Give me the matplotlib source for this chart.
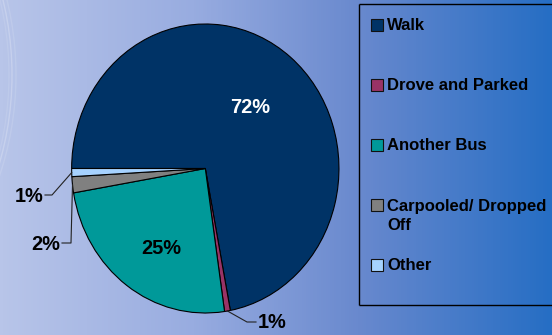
import matplotlib
matplotlib.use("Agg")
import matplotlib.pyplot as plt
import numpy as np
from matplotlib.patches import Rectangle, Arc
from matplotlib.lines import Line2D
from matplotlib.colors import LinearSegmentedColormap

# Mode of access to the bus stop (share of riders, %)
categories = ["Walk", "Drove and Parked", "Another Bus", "Carpooled/ Dropped\nOff", "Other"]
shares = [72.0, 0.7, 24.6, 1.8, 0.9]
colors = ["#003366", "#993366", "#009999", "#808080", "#A6D2FF"]

W, H = 552, 335
FONT = ["Liberation Sans", "DejaVu Sans"]

fig = plt.figure(figsize=(W / 100, H / 100), dpi=100)

# Background: horizontal gradient, light lavender on the left to blue on the right
bg = fig.add_axes([0, 0, 1, 1])
bg_cmap = LinearSegmentedColormap.from_list(
    "bg",
    [(0.0, (184 / 255, 197 / 255, 233 / 255)),
     (0.35, (152 / 255, 172 / 255, 224 / 255)),
     (0.65, (105 / 255, 137 / 255, 206 / 255)),
     (1.0, (38 / 255, 110 / 255, 196 / 255))],
)
grad = np.linspace(0, 1, 552)[None, :]
bg.imshow(grad, aspect="auto", cmap=bg_cmap, extent=[0, W, 0, H], origin="lower",
          interpolation="nearest")
bg.set_xlim(0, W)
bg.set_ylim(0, H)
bg.axis("off")

# faint decorative swoosh at the left edge
for dx, a in [(0, 0.22), (4, 0.12), (-3, 0.1)]:
    bg.add_patch(Arc((-305 + dx, H - 75), 2 * 317, 2 * 317, theta1=-20, theta2=20,
                     color="white", lw=1.0, alpha=a))

# Pie axes (slightly taller than wide)
cx, cy, rx, ry = 205.3, 168.5, 133.65, 144.5
ax = fig.add_axes([(cx - rx) / W, (H - cy - ry) / H, 2 * rx / W, 2 * ry / H])
wedges, _ = ax.pie(shares, colors=colors, startangle=180, counterclock=False,
                   wedgeprops=dict(edgecolor="black", linewidth=0.8))
ax.set_aspect("auto")
ax.set_xlim(-1, 1)
ax.set_ylim(-1, 1)
ax.axis("off")


def px(x, y):
    """pixel position -> pie data coordinates"""
    return (x - cx) / rx, (cy - y) / ry


label_kw = dict(fontsize=14.4, fontweight="bold", family=FONT)

# inside labels for the large slices: (radius, angle shift in degrees, colour)
inside = {0: (0.54, 1.0, "white"), 2: (0.645, 5.5, "black")}
for i, (r, dth, col) in inside.items():
    w = wedges[i]
    th = np.deg2rad((w.theta1 + w.theta2) / 2 + dth)
    ax.text(r * np.cos(th), r * np.sin(th), f"{shares[i]:.0f}%", color=col,
            ha="center", va="center", **label_kw)

# outside labels with leader lines: (elbow px, end px, text px, ha)
outside = {
    4: ((52, 195), (45, 195), (43, 197), "right"),
    3: ((71, 243), (62, 243), (60, 244), "right"),
    1: ((247, 322), (256, 322), (258, 323), "left"),
}
for i, (elbow, end, tpos, ha) in outside.items():
    w = wedges[i]
    th = np.deg2rad((w.theta1 + w.theta2) / 2)
    ex, ey = px(*elbow)
    nx, ny = px(*end)
    ax.plot([np.cos(th), ex, nx], [np.sin(th), ey, ny], color="#222222",
            lw=0.8, clip_on=False)
    tx, ty = px(*tpos)
    ax.text(tx, ty, f"{shares[i]:.0f}%", color="black", ha=ha, va="center",
            clip_on=False, **label_kw)

# Legend frame on the right, open towards the right edge (figure fractions)
x0, x1 = 358.5 / W, 1.0
yt, yb = 1 - 3.5 / H, 1 - 305 / H
for xs, ys in [([x0, x1], [yt, yt]), ([x0, x0], [yt, yb]), ([x0, x1], [yb, yb])]:
    fig.add_artist(Line2D(xs, ys, transform=fig.transFigure, color="black",
                          lw=1.0, solid_capstyle="butt"))
for i, (name, col) in enumerate(zip(categories, colors)):
    yc = 24.5 + 60 * i
    bg.add_patch(Rectangle((370.5, H - yc - 6), 12, 12, facecolor=col,
                           edgecolor="#111111", lw=0.8))
    for k, line in enumerate(name.split("\n")):
        bg.text(387, H - (yc + 6 + 20 * k), line, ha="left", va="baseline",
                fontsize=12, fontweight="bold", family=FONT, color="black",
                clip_on=False)
bg.set_xlim(0, W)
bg.set_ylim(0, H)

fig.savefig("out.png", dpi=100)
